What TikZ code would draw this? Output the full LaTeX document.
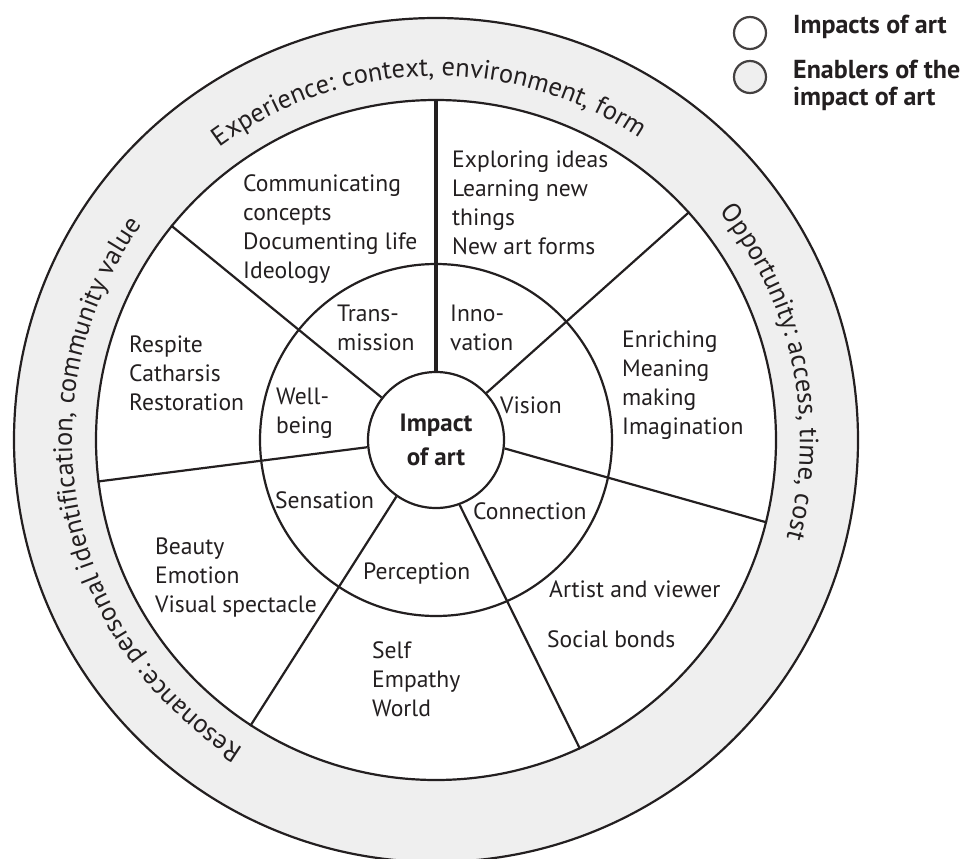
\documentclass[tikz,border=0pt]{standalone}
\usepackage{fontspec}
\setmainfont{PT Sans}
\usetikzlibrary{decorations.text}

\definecolor{ink}{HTML}{231F20}
\definecolor{ringgray}{HTML}{EFEFEF}
\newcommand{\bodyfont}{\fontsize{23.6}{28.7}\selectfont}
\newcommand{\ringfont}{\fontsize{26.5}{30}\selectfont}

% multi-line nodes are placed by the baseline of their last line
\tikzset{
  disc/.style={circle, draw=ink, line width=2.2pt, inner sep=0pt},
  spoke/.style={draw=ink, line width=2.2pt},
  boldspoke/.style={draw=ink, line width=4pt},
  label/.style={anchor=base west, align=left, inner sep=0pt, text=ink, font=\bodyfont},
  legendtext/.style={anchor=base west, align=left, inner sep=0pt, text=ink,
    font=\bfseries\fontsize{26}{27}\selectfont},
  ringtext/.style={decorate, decoration={text along path, text align=center, text color=ink, text={|\ringfont|#1}}}
}

\begin{document}
\begin{tikzpicture}[x=1pt, y=-1pt]
  \useasboundingbox (0,0) rectangle (975,859);

  % rings and circles
  \node[disc, fill=ringgray, minimum size=844pt] (outer) at (436,440) {};
  \node[disc, fill=white, minimum size=680pt] (ring) at (436,440) {};
  \node[disc, minimum size=352pt] (mid) at (436,440) {};
  \node[disc, fill=white, minimum size=136pt, align=center, text=ink,
        font=\bfseries\fontsize{25}{34}\selectfont] (hub) at (436,440) {Impact\\of art};

  % spokes from the hub to the enabler ring
  \draw[boldspoke] (hub.90) -- (ring.90);
  \draw[spoke] (hub.43.9) -- (ring.42.2);
  \draw[spoke] (hub.-7.5) -- (ring.-14.8);
  \draw[spoke] (hub.-70.6) -- (ring.-65.9);
  \draw[spoke] (hub.235.6) -- (ring.237.4);
  \draw[spoke] (hub.186.6) -- (ring.187.3);
  \draw[spoke] (hub.142) -- (ring.141.5);

  % enablers written along the outer ring
  \path[ringtext={Experience: context, environment, form}]
    (436,440) ++(-171.25:364) arc[start angle=-171.25, end angle=-11.25, radius=364];
  \path[ringtext={Opportunity: access, time, cost}]
    (436,440) ++(-91.6:364) arc[start angle=-91.6, end angle=68.4, radius=364];
  \path[ringtext={Resonance: personal identification, community value}]
    (436,440) ++(-270.9:364) arc[start angle=-270.9, end angle=-110.9, radius=364];

  % impacts in the middle ring
  \node[label] (trans) at (337,350) {Trans-\\mission};
  \node[label] (inno) at (450,350) {Inno-\\vation};
  \node[label] (well) at (276,433) {Well-\\being};
  \node[label] (vision) at (500,413) {Vision};
  \node[label] (sensation) at (275,508) {Sensation};
  \node[label] (connection) at (473,519) {Connection};
  \node[label] (perception) at (363,579) {Perception};

  % details in the outer sectors
  \node[label] (comm) at (243,278) {Communicating\\concepts\\Documenting life\\Ideology};
  \node[label] (explore) at (452,254) {Exploring ideas\\Learning new\\things\\New art forms};
  \node[label] (enrich) at (622,434) {Enriching\\Meaning\\making\\Imagination};
  \node[label] (respite) at (129,410) {Respite\\Catharsis\\Restoration};
  \node[label] (beauty) at (155,612) {Beauty\\Emotion\\Visual spectacle};
  \node[label] (self) at (372,716) {Self\\Empathy\\World};
  \node[label] (artist) at (549,597) {Artist and viewer};
  \node[label] (social) at (547,647) {Social bonds};

  % legend
  \node[circle, draw=ink!85, line width=2.2pt, minimum size=32pt, inner sep=0pt] (keyimpact) at (750,33) {};
  \node[circle, draw=ink!85, fill=ringgray, line width=2.2pt, minimum size=32pt, inner sep=0pt] (keyenabler) at (750,77) {};
  \node[legendtext] (keyimpacttext) at (793,34) {Impacts of art};
  \node[legendtext] (keyenablertext) at (793,105) {Enablers of the\\impact of art};
\end{tikzpicture}
\end{document}
